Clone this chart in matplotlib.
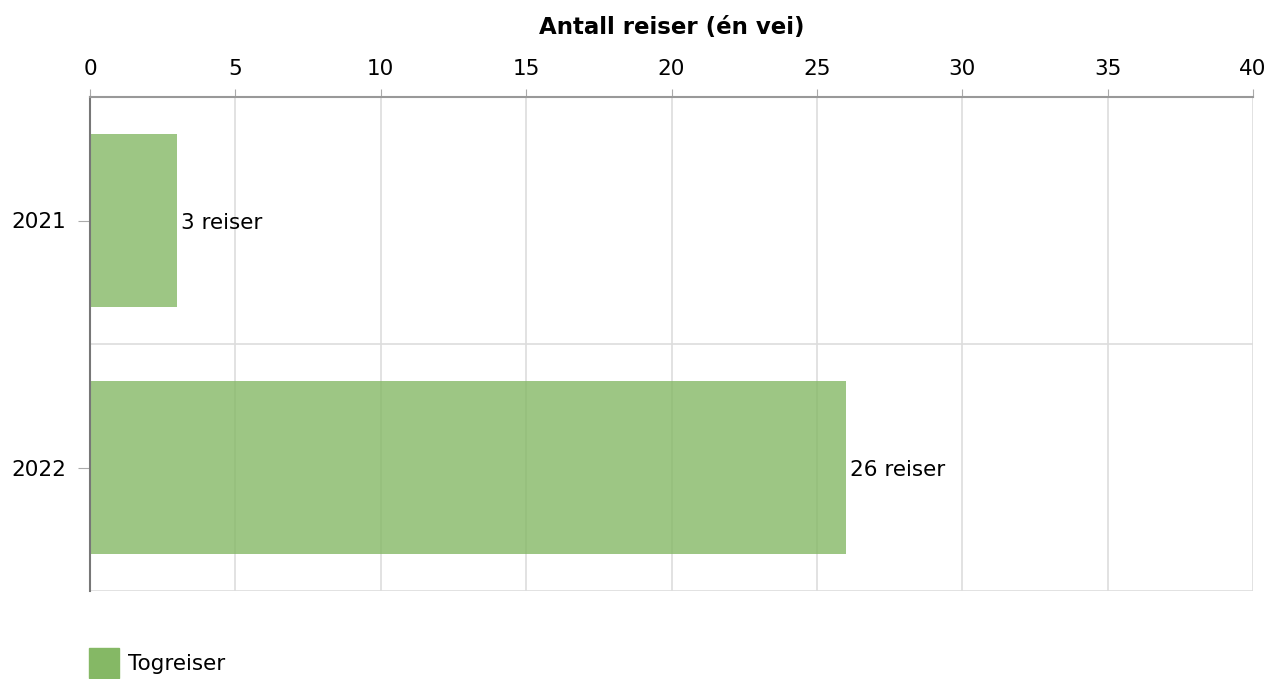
import matplotlib.pyplot as plt
from matplotlib.patches import Patch

years = ['2021', '2022']
trips = [3, 26]
labels = ['3 reiser', '26 reiser']
xticks = [0, 5, 10, 15, 20, 25, 30, 35, 40]

bar_color = '#85b865'

fig = plt.figure(figsize=(12.7, 6.79), dpi=100)
ax = fig.add_axes([90/1270, 1 - 591/679, (1253 - 90)/1270, (591 - 97)/679])

pos = list(range(len(years)))
ax.barh(pos, trips, height=0.7, color=bar_color, alpha=0.8, zorder=2)
for p, v, lab in zip(pos, trips, labels):
    ax.annotate(lab, (v, p), xytext=(3, -2), textcoords='offset points',
                va='center', ha='left', fontsize=15.5, color='black')

ax.set_xlim(0, 40)
ax.set_ylim(len(years) - 0.5, -0.5)
ax.set_xticks(xticks)
ax.set_yticks(pos)
ax.set_yticklabels(years)
ax.xaxis.tick_top()
ax.xaxis.set_label_position('top')
ax.set_xlabel('Antall reiser (én vei)', fontsize=16.5, fontweight='bold', labelpad=18)
ax.tick_params(axis='x', length=6, color='#aaaaaa', labelsize=15.5, pad=7)
ax.tick_params(axis='y', length=9, color='#aaaaaa', labelsize=15.5, pad=8)

ax.grid(axis='x', color='#dddddd', linewidth=1.2, zorder=0)
for b in [0.5, 1.5]:
    ax.axhline(b, color='#dddddd', linewidth=1.2, zorder=0)

ax.spines['top'].set_color('#999999')
ax.spines['top'].set_linewidth(1.5)
ax.spines['left'].set_color('#777777')
ax.spines['left'].set_linewidth(1.5)
ax.spines['right'].set_visible(False)
ax.spines['bottom'].set_visible(False)
ax.set_axisbelow(True)

fig.legend(handles=[Patch(color=bar_color, label='Togreiser')],
           loc='upper left', bbox_to_anchor=(89/1270, 1 - 648/679), frameon=False,
           borderpad=0, borderaxespad=0, fontsize=15.5,
           handlelength=1.4, handleheight=1.8, handletextpad=0.4)

fig.savefig('out.png', dpi=100)
